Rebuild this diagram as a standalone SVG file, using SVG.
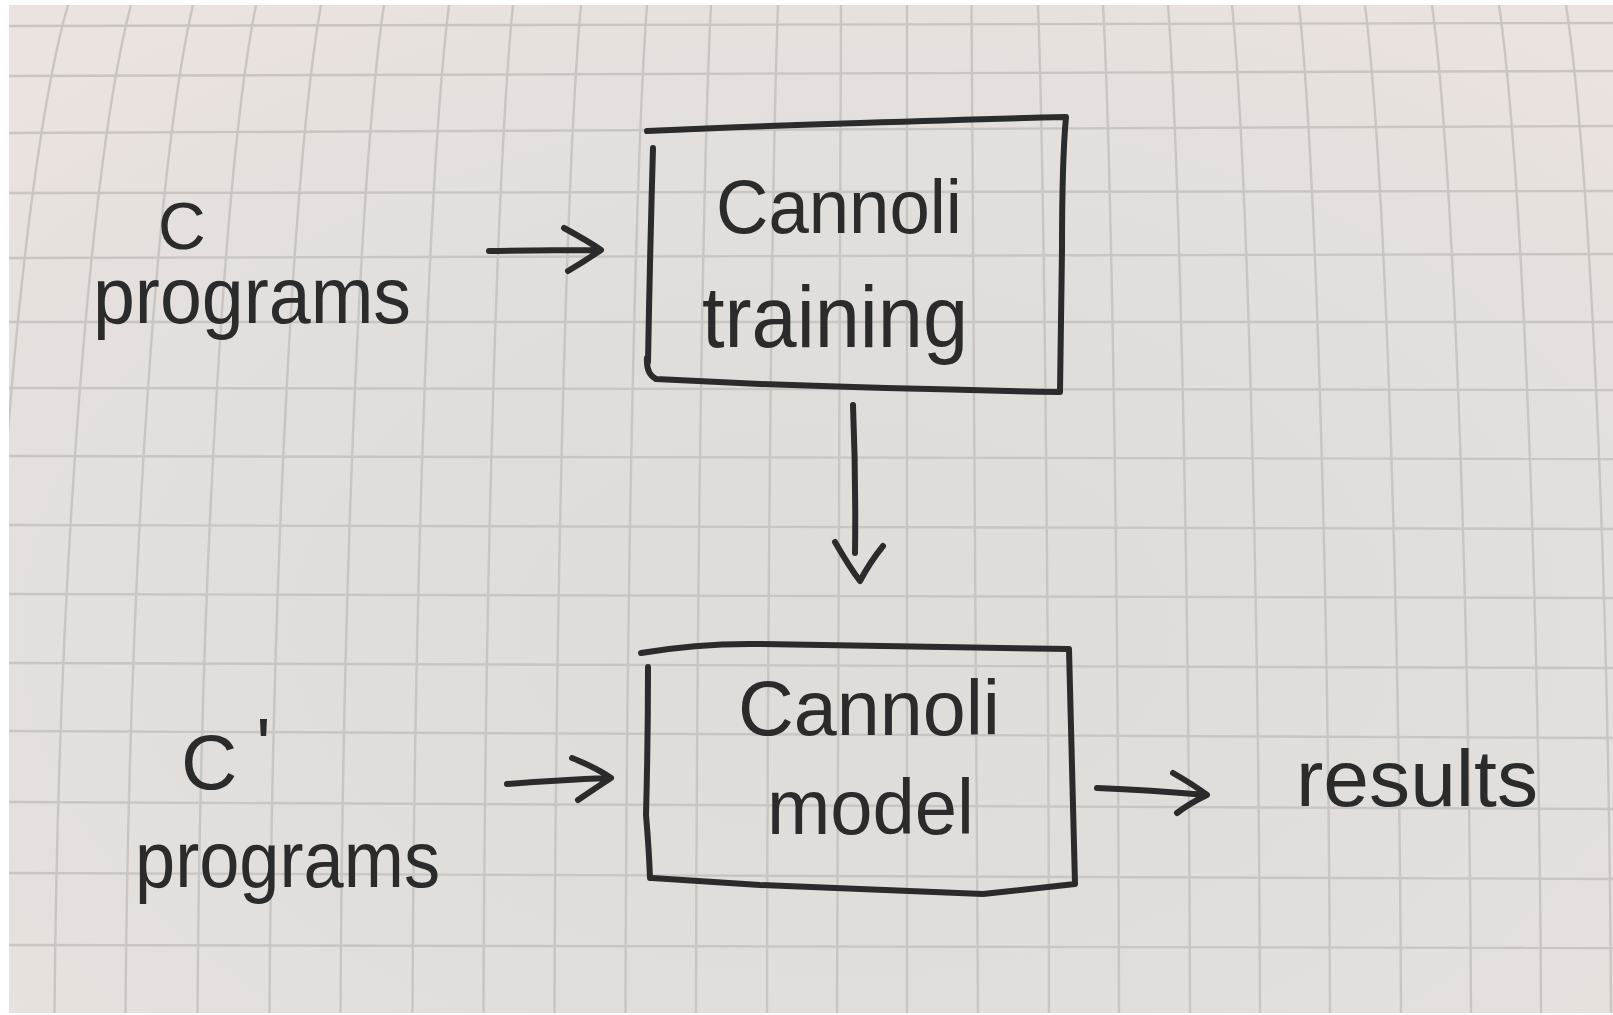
<svg xmlns="http://www.w3.org/2000/svg" width="1613" height="1015" viewBox="0 0 1613 1015">
  <defs>
    <radialGradient id="paperShade" cx="52%" cy="62%" r="75%">
      <stop offset="0" stop-color="#dedddA"/>
      <stop offset="0.55" stop-color="#e1dedb"/>
      <stop offset="1" stop-color="#ebe3e0"/>
    </radialGradient>
    <clipPath id="paperClip">
      <rect x="9" y="5" width="1604" height="1008"/>
    </clipPath>
  </defs>
  <style>
    .grid { fill: none; stroke: #c8c5c2; stroke-width: 2.4; }
    .ink { fill: none; stroke: #2b2b2b; stroke-width: 6; stroke-linecap: round; stroke-linejoin: round; }
    .hand { font-family: "Liberation Sans", Arial, sans-serif; fill: #2b2b2b; }
  </style>

  <!-- photo border and paper -->
  <rect x="0" y="0" width="1613" height="1015" fill="#ffffff"/>
  <rect x="9" y="5" width="1604" height="1008" fill="url(#paperShade)"/>

  <!-- grid paper -->
  <g id="grid" clip-path="url(#paperClip)">
    <path class="grid" d="M68,5 C25.8,150 -12.3,550 -16.5,1013"/>
    <path class="grid" d="M131,5 C92.8,150 58.3,550 54.5,1013"/>
    <path class="grid" d="M193,5 C159.3,150 128.9,550 125.5,1013"/>
    <path class="grid" d="M256,5 C226.8,150 200.4,550 197.5,1013"/>
    <path class="grid" d="M321,5 C295.3,150 272.1,550 269.5,1013"/>
    <path class="grid" d="M384,5 C362.3,150 342.7,550 340.5,1013"/>
    <path class="grid" d="M449,5 C430.8,150 414.3,550 412.5,1013"/>
    <path class="grid" d="M513,5 C498.3,150 485,550 483.5,1013"/>
    <path class="grid" d="M581,5 C567.8,150 555.8,550 554.5,1013"/>
    <path class="grid" d="M647,5 C636.3,150 626.6,550 625.5,1013"/>
    <path class="grid" d="M711,5 C703.5,150 696.8,550 696,1013"/>
    <path class="grid" d="M778,5 C772.5,150 767.6,550 767,1013"/>
    <path class="grid" d="M841,5 C839,150 837.2,550 837,1013"/>
    <path class="grid" d="M907,5 L907,1013"/>
    <path class="grid" d="M971.5,5 C974.8,150 977.7,550 978,1013"/>
    <path class="grid" d="M1038,5 C1043.5,150 1048.5,550 1049,1013"/>
    <path class="grid" d="M1103,5 C1111,150 1118.2,550 1119,1013"/>
    <path class="grid" d="M1168,5 C1179,150 1188.9,550 1190,1013"/>
    <path class="grid" d="M1232,5 C1246,150 1258.6,550 1260,1013"/>
    <path class="grid" d="M1299,5 C1314.5,150 1328.5,550 1330,1013"/>
    <path class="grid" d="M1365,5 C1383,150 1399.2,550 1401,1013"/>
    <path class="grid" d="M1432,5 C1451.5,150 1469,550 1471,1013"/>
    <path class="grid" d="M1499,5 C1520,150 1538.9,550 1541,1013"/>
    <path class="grid" d="M1566,5 C1588.5,150 1608.8,550 1611,1013"/>
    <path class="grid" d="M9,26 L1613,23"/>
    <path class="grid" d="M9,76 L1613,71"/>
    <path class="grid" d="M9,133 L1613,126"/>
    <path class="grid" d="M9,193 L1613,191"/>
    <path class="grid" d="M9,258 L1613,254"/>
    <path class="grid" d="M9,322 L1613,322"/>
    <path class="grid" d="M9,388 L1613,390"/>
    <path class="grid" d="M9,456 L1613,459"/>
    <path class="grid" d="M9,525 L1613,529"/>
    <path class="grid" d="M9,594 L1613,598"/>
    <path class="grid" d="M9,663 L1613,668"/>
    <path class="grid" d="M9,731 L1613,738"/>
    <path class="grid" d="M9,802 L1613,809"/>
    <path class="grid" d="M9,873 L1613,879"/>
    <path class="grid" d="M9,945 L1613,948"/>
  </g>

  <!-- nodes -->
  <g id="c-programs">
    <text class="hand" font-size="80"><tspan x="158" y="249" font-size="66">C</tspan><tspan x="93" y="323" textLength="318" lengthAdjust="spacingAndGlyphs">programs</tspan></text>
  </g>

  <g id="cannoli-training">
    <path class="ink" d="M647,131 Q760,126 860,123 Q980,119 1066,117 Q1062,160 1062,250 Q1061,330 1060,392 Q900,389 760,384 Q700,381 656,379 Q646,374 647,358"/>
    <path class="ink" d="M653,148 Q650,250 648,362"/>
    <text class="hand" font-size="76"><tspan x="716" y="233" textLength="246" lengthAdjust="spacingAndGlyphs">Cannoli</tspan><tspan x="702" y="347" font-size="88" textLength="266" lengthAdjust="spacingAndGlyphs">training</tspan></text>
  </g>

  <g id="cprime-programs">
    <text class="hand" font-size="78"><tspan x="181" y="789">C</tspan><tspan x="256" y="773">'</tspan><tspan x="135" y="887" font-size="80" textLength="305" lengthAdjust="spacingAndGlyphs">programs</tspan></text>
  </g>

  <g id="cannoli-model">
    <path class="ink" d="M641,653 Q700,643 760,644 Q920,646 1069,649 Q1072,760 1075,884 Q1030,889 983,894 Q860,889 760,885 Q700,881 652,878"/>
    <path class="ink" d="M648,667 Q648,740 646,815 Q649,850 650,878"/>
    <text class="hand" font-size="78"><tspan x="738" y="735" textLength="262" lengthAdjust="spacingAndGlyphs">Cannoli</tspan><tspan x="767" y="834" textLength="207" lengthAdjust="spacingAndGlyphs">model</tspan></text>
  </g>

  <g id="results">
    <text class="hand" x="1296" y="806" font-size="80" textLength="242" lengthAdjust="spacingAndGlyphs">results</text>
  </g>

  <!-- connectors -->
  <g id="connectors">
    <path class="ink" d="M489,251 Q545,250 600,250 M564,228 Q588,241 601,250 Q585,261 568,271"/>
    <path class="ink" d="M853,405 Q856,480 855,553 M835,542 Q850,568 860,581 Q870,562 883,546"/>
    <path class="ink" d="M507,784 Q560,780 609,778 M572,758 Q597,768 611,778 Q594,789 578,800"/>
    <path class="ink" d="M1097,788 Q1150,790 1206,795 M1173,773 Q1194,785 1207,795 Q1190,803 1177,813"/>
  </g>
</svg>
